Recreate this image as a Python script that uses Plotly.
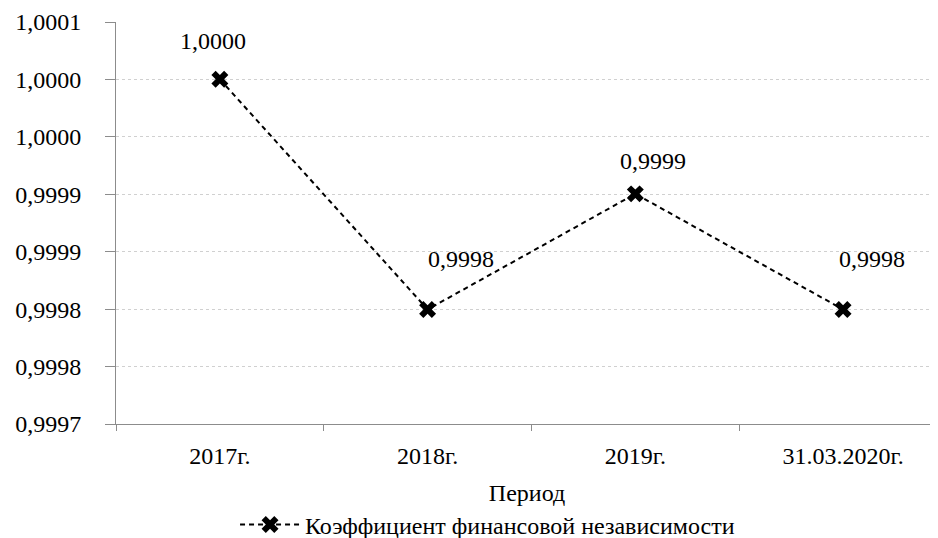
import plotly.graph_objects as go

categories = ["2017г.", "2018г.", "2019г.", "31.03.2020г."]
values = [1.000043, 0.999814, 0.999929, 0.999814]
series_name = "Коэффициент финансовой независимости"
x_title = "Период"

FONT = "Liberation Serif, Times New Roman, serif"

fig = go.Figure()
fig.add_trace(go.Scatter(
    x=categories, y=values, mode="lines+markers", name=series_name,
    line=dict(color="black", width=2, dash="5px,4px"),
    marker=dict(symbol="x", size=15, color="black", line=dict(width=0)),
))

label_offsets = [(-7, 38), (33, 50), (18, 33), (29, 50)]
for c, v, (dx, dy) in zip(categories, values, label_offsets):
    fig.add_annotation(x=c, y=v, text=f"{v:.4f}".replace(".", ","), showarrow=False,
                       xshift=dx, yshift=dy, font=dict(family=FONT, size=24, color="black"))

fig.update_layout(
    width=930, height=530,
    margin=dict(l=108, r=0, t=14, b=114, autoexpand=False),
    paper_bgcolor="white", plot_bgcolor="white",
    font=dict(family=FONT, size=24, color="black"),
    separators=", ",
    showlegend=True,
    legend=dict(orientation="h", x=0.452, xanchor="center", y=-0.251, yanchor="middle",
                font=dict(family=FONT, size=24), bgcolor="rgba(0,0,0,0)", itemwidth=60),
)
fig.update_xaxes(
    type="category", range=[-0.5, 3.457], automargin=False,
    showline=True, linecolor="#8c8c8c", linewidth=1,
    ticks="outside", tickson="boundaries", ticklen=6, tickcolor="#8c8c8c",
    showgrid=False, zeroline=False, ticklabelstandoff=10,
    title=dict(text=x_title, font=dict(family=FONT, size=24), standoff=16),
    tickfont=dict(family=FONT, size=24),
)
fig.update_yaxes(
    range=[0.9997, 1.0001], tick0=0.9997, dtick=0.0004 / 7, tickformat=".4f",
    automargin=False,
    showline=True, linecolor="#8c8c8c", linewidth=1,
    ticks="outside", ticklen=10, tickcolor="#8c8c8c",
    showgrid=True, gridcolor="#d0d0d0", gridwidth=1, griddash="dot",
    zeroline=False, ticklabelstandoff=19,
    tickfont=dict(family=FONT, size=24),
)

fig.write_html("out.html")
